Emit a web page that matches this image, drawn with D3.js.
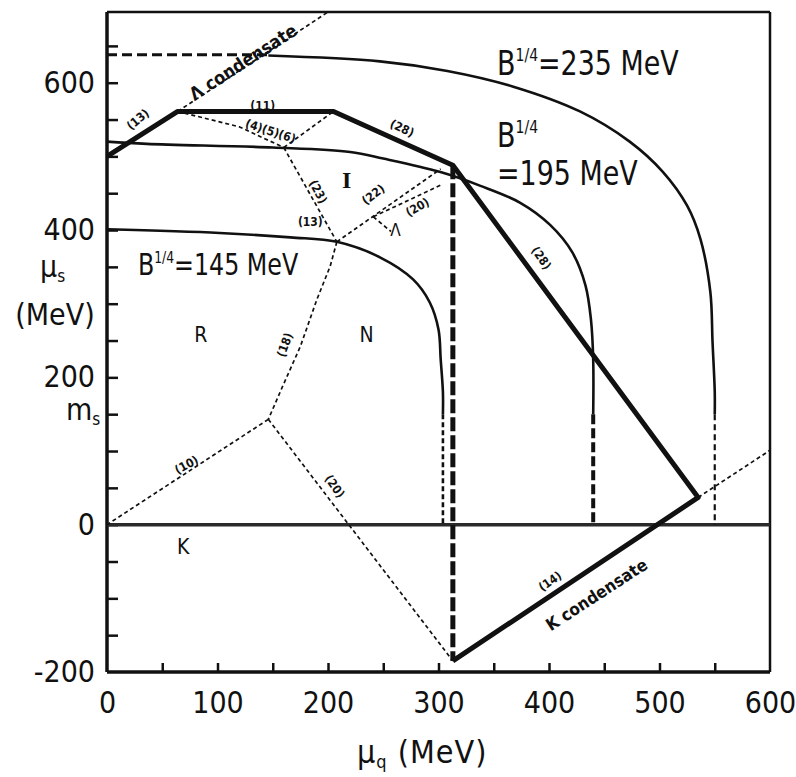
<!DOCTYPE html>
<html>
<head>
<meta charset="utf-8">
<script src="https://cdn.jsdelivr.net/npm/d3@7"></script>
<style>
  html, body { margin: 0; padding: 0; background: #fff; }
  svg text { font-family: 'Liberation Sans Narrow', 'DejaVu Sans Condensed', 'Liberation Sans', sans-serif; fill: #111; }
</style>
</head>
<body>
<svg id="chart" width="796" height="777"></svg>
<script>
// ---- data (MeV): mu_q on x, mu_s on y ----
const xTickLabels = [0, 100, 200, 300, 400, 500, 600];
const yTickLabels = [-200, 0, 200, 400, 600];
const xMinorTicks = [50, 100, 150, 200, 250, 300, 350, 400, 450, 500, 550];
const yMinorTicks = [-150, -100, -50, 0, 50, 100, 150, 200, 250, 300, 350, 400, 450, 500, 550, 600, 650];
const strangeMass = 150;

// bag-model phase boundaries for three bag constants
const curve145 = [[0,401],[102,396],[166,390],[208,384],[247,363],[277,333],[292,302],[300,265],[302,224],[304,180],[304,150]];
const tail145  = [[304,150],[304,0]];
const curve195 = [[0,520],[36,517],[150,512],[220,506],[250,497],[301,479],[338,460],[374,437],[401,407],[421,370],[433,325],[438,278],[440,224],[440,150]];
const tail195  = [[440,150],[440,0]];
const lead235  = [[0,638],[146,638]];
const curve235 = [[146,637],[247,629],[308,616],[367,595],[428,561],[473,520],[503,479],[525,433],[537,388],[546,316],[548,248],[550,180],[550,150]];
const tail235  = [[550,150],[550,0]];

// hadronic phase boundary (heavy line) and its vertical dashed edge
const boundary = [[0,500],[64,561],[205,561],[313,488],[535,37],[313,-185]];
const boundaryEdge = [[313,488],[313,-185]];

// thin dashed phase lines
const lambdaCondensate = [[64,561],[200,696]];
const kaonCondensate   = [[535,37],[600,101]];
const lineA = [[64,561],[120,540],[160,512]];
const lineB = [[160,512],[205,561]];
const lineC = [[160,512],[208,384]];
const lineD = [[208,384],[202,351],[190,306],[175,242],[159,188],[146,143]];
const lineE = [[146,143],[0,0]];
const lineF = [[146,143],[313,-185]];
const lineG = [[208,384],[302,483]];
const lineH = [[241,418],[302,461]];
const lineI = [[241,418],[257,398]];

// ---- layout ----
const svg = d3.select('#chart');
const x = d3.scaleLinear().domain([0, 600]).range([107, 770]);
const y = d3.scaleLinear().domain([-200, 696]).range([672, 12]);
const line = d3.line().x(d => x(d[0])).y(d => y(d[1]));
const smooth = d3.line().x(d => x(d[0])).y(d => y(d[1])).curve(d3.curveCatmullRom.alpha(0.5));

function path(data, gen, width, dash, color) {
  svg.append('path').datum(data).attr('d', gen)
    .attr('fill', 'none').attr('stroke', color || '#111')
    .attr('stroke-width', width)
    .attr('stroke-dasharray', dash || null)
    .attr('stroke-linejoin', 'round');
}

// axes: minor ticks pointing inward
const gx = svg.append('g').attr('transform', `translate(0,${y(-200)})`)
  .call(d3.axisBottom(x).tickValues(xMinorTicks).tickSize(-9).tickFormat(''));
gx.select('.domain').remove();
gx.selectAll('line').attr('stroke', '#111').attr('stroke-width', 2.5);

const gy = svg.append('g').attr('transform', `translate(${x(0)},0)`)
  .call(d3.axisLeft(y).tickValues(yMinorTicks).tickSize(-11).tickFormat(''));
gy.select('.domain').remove();
gy.selectAll('line').attr('stroke', '#111').attr('stroke-width', 2.5);

// tick labels
const gxl = svg.append('g').attr('transform', `translate(0,${y(-200)})`)
  .call(d3.axisBottom(x).tickValues(xTickLabels).tickSize(0).tickPadding(20).tickFormat(d3.format('d')));
gxl.select('.domain').remove();
gxl.selectAll('text').attr('font-size', 30).attr('fill', '#111');

const gyl = svg.append('g').attr('transform', `translate(${x(0)},0)`)
  .call(d3.axisLeft(y).tickValues(yTickLabels).tickSize(0).tickPadding(12).tickFormat(d => d < 0 ? '-' + Math.abs(d) : d));
gyl.select('.domain').remove();
gyl.selectAll('text').attr('font-size', 30).attr('fill', '#111');

// frame and the mu_s = 0 line
svg.append('line').attr('x1', x(0)).attr('x2', x(0)).attr('y1', y(696)).attr('y2', y(-200)).attr('stroke', '#111').attr('stroke-width', 3.5);
svg.append('line').attr('x1', x(0)).attr('x2', x(600)).attr('y1', y(-200)).attr('y2', y(-200)).attr('stroke', '#111').attr('stroke-width', 3.5);
svg.append('line').attr('x1', x(600)).attr('x2', x(600)).attr('y1', y(696)).attr('y2', y(-200)).attr('stroke', '#111').attr('stroke-width', 2.5);
svg.append('line').attr('x1', x(0)).attr('x2', x(600)).attr('y1', y(696)).attr('y2', y(696)).attr('stroke', '#111').attr('stroke-width', 2.5);
svg.append('line').attr('x1', x(0)).attr('x2', x(600)).attr('y1', y(0)).attr('y2', y(0)).attr('stroke', '#2a2a2a').attr('stroke-width', 3.5);

// thin dashed phase lines
[lambdaCondensate, kaonCondensate, lineA, lineB, lineC, lineD, lineE, lineF, lineG, lineH, lineI]
  .forEach(d => path(d, line, 1.7, '4,3'));

// bag curves
path(curve145, smooth, 2.6);
path(tail145, line, 2.6, '5,3');
path(curve195, smooth, 2.6);
path(tail195, line, 4, '10,4');
path(lead235, line, 3, '10,5');
path(curve235, smooth, 2.6);
path(tail235, line, 2.2, '6,4');

// heavy boundary
path(boundary, line, 5);
path(boundaryEdge, line, 5, '14,4');

// ---- annotations (data coordinates) ----
const small = [
  { t: '(13)', p: [28, 550], r: -40 },
  { t: '(11)', p: [141, 568], r: 0 },
  { t: '(4)(5)(6)', p: [148, 534], r: 18 },
  { t: '(28)', p: [267, 538], r: 25 },
  { t: '(28)', p: [393, 362], r: 55 },
  { t: '(23)', p: [191, 452], r: 62 },
  { t: '(22)', p: [241, 448], r: -37 },
  { t: '(20)', p: [281, 431], r: -30 },
  { t: '(13)', p: [184, 411], r: 0 },
  { t: '(18)', p: [161, 244], r: -70 },
  { t: '(10)', p: [72, 81], r: -28 },
  { t: '(20)', p: [206, 52], r: 55 },
  { t: '(14)', p: [401, -77], r: -35 }
];
small.forEach(a => {
  svg.append('text').text(a.t)
    .attr('transform', `translate(${x(a.p[0])},${y(a.p[1])}) rotate(${a.r})`)
    .attr('text-anchor', 'middle').attr('dominant-baseline', 'central')
    .attr('font-size', 12).attr('font-weight', 'bold');
});

const regions = [
  { t: 'R', p: [85, 258], s: 21 }, { t: 'N', p: [235, 258], s: 21 }, { t: 'K', p: [69, -30], s: 21 },
  { t: 'Λ', p: [261, 400], s: 17 }
];
regions.forEach(a => {
  svg.append('text').text(a.t)
    .attr('x', x(a.p[0])).attr('y', y(a.p[1]))
    .attr('text-anchor', 'middle').attr('dominant-baseline', 'central')
    .attr('font-size', a.s);
});
svg.append('text').text('I')
  .attr('x', x(217)).attr('y', y(468))
  .attr('text-anchor', 'middle').attr('dominant-baseline', 'central')
  .attr('font-size', 24).attr('font-weight', 'bold')
  .style('font-family', "'Liberation Serif', 'DejaVu Serif', serif");

svg.append('text').text('Λ condensate')
  .attr('transform', `translate(${x(123)},${y(628)}) rotate(-33)`)
  .attr('text-anchor', 'middle').attr('dominant-baseline', 'central')
  .attr('font-size', 18).attr('font-weight', 'bold');
svg.append('text').text('K condensate')
  .attr('transform', `translate(${x(443)},${y(-95)}) rotate(-33)`)
  .attr('text-anchor', 'middle').attr('dominant-baseline', 'central')
  .attr('font-size', 17).attr('font-weight', 'bold');

// bag-constant labels (tall, narrow lettering)
function bagText(px, py, size) {
  return svg.append('text')
    .attr('transform', `translate(${x(px)},${y(py)}) scale(0.88,1)`)
    .attr('font-size', size);
}
function bagLabel(px, py, value, size) {
  const t = bagText(px, py, size);
  t.append('tspan').text('B');
  t.append('tspan').text('1/4').attr('font-size', size * 0.52).attr('dy', -size * 0.4);
  if (value !== null) t.append('tspan').text('=' + value + ' MeV').attr('dy', size * 0.4);
}
bagLabel(353, 611, 235, 34);
bagLabel(28, 339, 145, 30);
bagLabel(353, 513, null, 34);
bagText(353, 461, 34).text('=195 MeV');

// axis titles
const ys = svg.append('text').attr('x', 40).attr('y', 277).attr('font-size', 30);
ys.append('tspan').text('μ');
ys.append('tspan').text('s').attr('font-size', 17).attr('dy', 5);
svg.append('text').text('(MeV)').attr('x', 55).attr('y', 325).attr('text-anchor', 'middle').attr('font-size', 30);
const ms = svg.append('text').attr('x', 66).attr('y', y(strangeMass) + 6).attr('font-size', 30);
ms.append('tspan').text('m');
ms.append('tspan').text('s').attr('font-size', 17).attr('dy', 5);

const xq = svg.append('text').attr('x', 357).attr('y', 763).attr('font-size', 32).attr('letter-spacing', 1);
xq.append('tspan').text('μ');
xq.append('tspan').text('q').attr('font-size', 18).attr('dy', 5);
xq.append('tspan').text(' (MeV)').attr('dy', -5);
</script>
</body>
</html>
